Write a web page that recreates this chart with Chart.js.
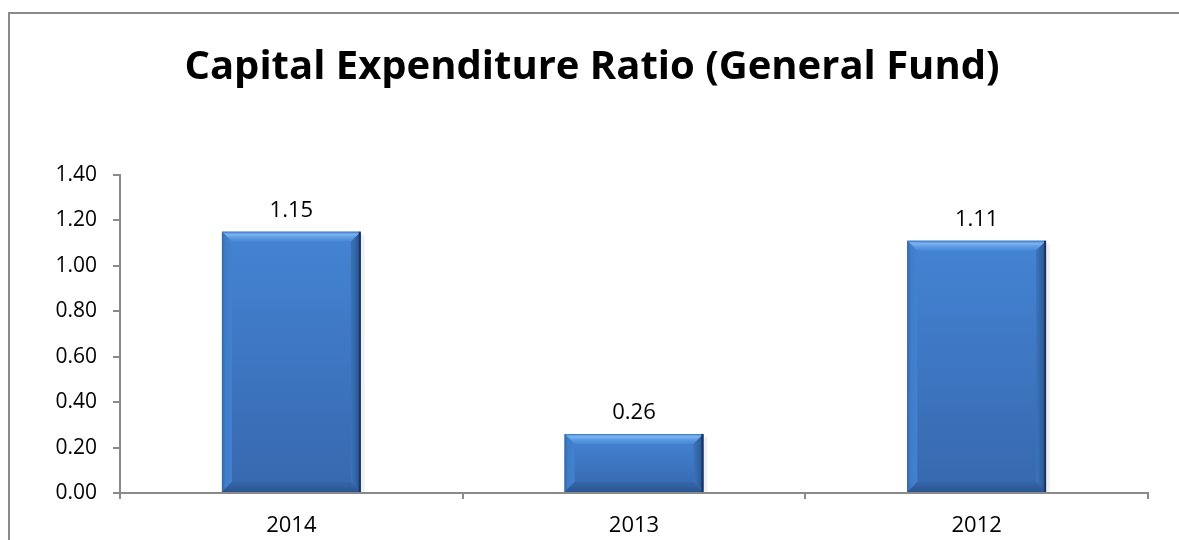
<!DOCTYPE html>
<html>
<head>
<meta charset="utf-8">
<script src="https://cdn.jsdelivr.net/npm/chart.js@4.4.1/dist/chart.umd.min.js"></script>
<style>
  html, body { margin: 0; padding: 0; background: #fff; overflow: hidden; }
  canvas { display: block; }
</style>
</head>
<body>
<canvas id="c" width="1179" height="540"></canvas>
<script>
const years = ['2014', '2013', '2012'];
const ratios = [1.15, 0.26, 1.11];
const yTicks = [0, 0.2, 0.4, 0.6, 0.8, 1.0, 1.2, 1.4];
const chartTitle = 'Capital Expenditure Ratio (General Fund)';

const FONT = "'Open Sans', 'Liberation Sans', sans-serif";

// Outer frame and heading
const framePlugin = {
  id: 'frame',
  beforeDraw(chart) {
    const ctx = chart.ctx;
    ctx.save();
    ctx.fillStyle = '#fff';
    ctx.fillRect(0, 0, chart.width, chart.height);
    ctx.fillStyle = '#8a8a8a';
    ctx.fillRect(8, 12, 2, chart.height - 12);
    ctx.fillRect(8, 12, chart.width - 8, 2);
    ctx.font = 'bold 40px ' + FONT;
    ctx.fillStyle = '#000';
    ctx.textAlign = 'center';
    ctx.textBaseline = 'alphabetic';
    ctx.fillText(chartTitle, 592, 79);
    ctx.restore();
  }
};

// Bevelled bar faces, painted over the library's bar rectangles
const bevelPlugin = {
  id: 'bevel',
  afterDatasetsDraw(chart) {
    const ctx = chart.ctx;
    chart.getDatasetMeta(0).data.forEach((bar) => {
      const p = bar.getProps(['x', 'y', 'base', 'width'], true);
      const l = p.x - p.width / 2, r = p.x + p.width / 2;
      const t = Math.min(p.y, p.base), b = Math.max(p.y, p.base);
      const h = b - t;
      const bw = Math.min(10, h / 2, p.width / 2);
      ctx.save();
      // soft shadow
      ctx.fillStyle = 'rgba(0,0,0,0.06)';
      ctx.fillRect(l + 2, t + 3, p.width + 2, h - 3);
      const g = ctx.createLinearGradient(0, t, 0, b);
      g.addColorStop(0, '#4484d4');
      g.addColorStop(1, '#3768ae');
      ctx.fillStyle = g;
      ctx.fillRect(l, t, p.width, h);
      // top bevel
      const gt = ctx.createLinearGradient(0, t, 0, t + bw);
      gt.addColorStop(0, '#3d78c4');
      gt.addColorStop(0.25, '#7cb4f1');
      gt.addColorStop(0.6, '#5d9ae2');
      gt.addColorStop(1, '#4787d6');
      ctx.fillStyle = gt;
      ctx.beginPath();
      ctx.moveTo(l, t); ctx.lineTo(r, t); ctx.lineTo(r - bw, t + bw); ctx.lineTo(l + bw, t + bw);
      ctx.closePath(); ctx.fill();
      // left bevel
      const gl = ctx.createLinearGradient(l, 0, l + bw, 0);
      gl.addColorStop(0, '#33679f');
      gl.addColorStop(0.3, '#3f7cc8');
      gl.addColorStop(1, '#4282d1');
      ctx.fillStyle = gl;
      ctx.beginPath();
      ctx.moveTo(l, t); ctx.lineTo(l + bw, t + bw); ctx.lineTo(l + bw, b - bw); ctx.lineTo(l, b);
      ctx.closePath(); ctx.fill();
      // right bevel
      const gr = ctx.createLinearGradient(r - bw, 0, r, 0);
      gr.addColorStop(0, '#3b74bd');
      gr.addColorStop(1, '#285590');
      ctx.fillStyle = gr;
      ctx.beginPath();
      ctx.moveTo(r, t); ctx.lineTo(r, b); ctx.lineTo(r - bw, b - bw); ctx.lineTo(r - bw, t + bw);
      ctx.closePath(); ctx.fill();
      // bottom bevel
      const gb = ctx.createLinearGradient(0, b - bw, 0, b);
      gb.addColorStop(0, '#3667ab');
      gb.addColorStop(1, '#2a5590');
      ctx.fillStyle = gb;
      ctx.beginPath();
      ctx.moveTo(l, b); ctx.lineTo(l + bw, b - bw); ctx.lineTo(r - bw, b - bw); ctx.lineTo(r, b);
      ctx.closePath(); ctx.fill();
      // dark rim on the right side
      ctx.fillStyle = '#1a3660';
      ctx.fillRect(r - 2, t, 2, h);
      ctx.restore();
    });
  }
};

// Value labels above each bar
const valueLabels = {
  id: 'valueLabels',
  afterDatasetsDraw(chart) {
    const ctx = chart.ctx;
    const ds = chart.data.datasets[0];
    ctx.save();
    ctx.font = '22px ' + FONT;
    ctx.fillStyle = '#000';
    ctx.textAlign = 'center';
    ctx.textBaseline = 'alphabetic';
    chart.getDatasetMeta(0).data.forEach((bar, i) => {
      ctx.fillText(ds.data[i].toFixed(2), bar.x, bar.y - 15);
    });
    ctx.restore();
  }
};

new Chart(document.getElementById('c'), {
  type: 'bar',
  data: {
    labels: years,
    datasets: [{
      data: ratios,
      backgroundColor: '#4080cf',
      borderWidth: 0,
      barPercentage: 0.405,
      categoryPercentage: 1.0
    }]
  },
  options: {
    responsive: false,
    animation: false,
    layout: { padding: { left: 0, right: 31, top: 175, bottom: 0 } },
    plugins: {
      legend: { display: false },
      tooltip: { enabled: false },
      title: { display: false }
    },
    scales: {
      x: {
        grid: { drawOnChartArea: false, drawTicks: true, tickLength: 6, color: '#8a8a8a', lineWidth: 2, offset: true },
        border: { display: true, color: '#8a8a8a', width: 2 },
        ticks: { color: '#000', font: { family: FONT, size: 22 }, padding: 14 },
        afterFit(s) { s.height = 47; }
      },
      y: {
        min: 0, max: 1.4,
        afterBuildTicks(s) { s.ticks = yTicks.map(v => ({ value: v })); },
        grid: { drawOnChartArea: false, drawTicks: true, tickLength: 7, color: '#8a8a8a', lineWidth: 2 },
        border: { display: true, color: '#8a8a8a', width: 2 },
        ticks: {
          color: '#000', font: { family: FONT, size: 21 }, padding: 16,
          callback: (v) => Number(v).toFixed(2)
        },
        afterFit(s) { s.width = 120; }
      }
    }
  },
  plugins: [framePlugin, bevelPlugin, valueLabels]
});
</script>
</body>
</html>
